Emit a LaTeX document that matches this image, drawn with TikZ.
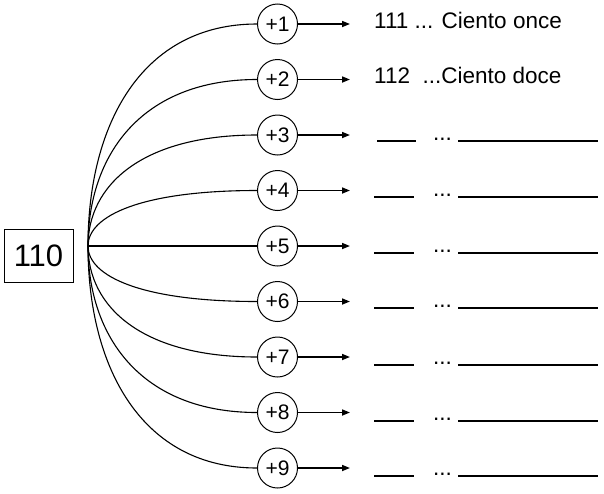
\documentclass[tikz,border=0pt]{standalone}
\usepackage{fontspec}
\setmainfont{Liberation Sans}
\usetikzlibrary{arrows.meta}

\begin{document}
\begin{tikzpicture}
				[x=1pt,y=-1pt,every node/.style={inner sep=0pt},
				plus/.style={circle, minimum size=40pt, line width=1pt, draw=black, font=\fontsize{21}{21}\selectfont},
				arc/.style={line width=1.1pt, color=black},
				go/.style={line width=1.6pt, color=black, -{Triangle[length=8pt,width=6pt]}},
				row/.style={anchor=base west, font=\fontsize{22.5}{22.5}\selectfont},
				blank/.style={line width=2.2pt, color=black}]
				\useasboundingbox (0,0) rectangle (604,493);
				\node (n) [draw=black, line width=1pt, minimum width=69pt, minimum height=53pt, font=\fontsize{31}{31}\selectfont] at (38.5, 255.5) {110};
				\coordinate (o) at (88, 246);
				\node (c1) [plus] at (277.5, 24)  {+1};
				\node (c2) [plus] at (277.5, 79.5)  {+2};
				\node (c3) [plus] at (277.5, 135)  {+3};
				\node (c4) [plus] at (277.5, 190.5)  {+4};
				\node (c5) [plus] at (277.5, 246)  {+5};
				\node (c6) [plus] at (277.5, 301.5)  {+6};
				\node (c7) [plus] at (277.5, 357)  {+7};
				\node (c8) [plus] at (277.5, 412.5)  {+8};
				\node (c9) [plus] at (277.5, 468)  {+9};
				\coordinate (a1) at (350, 24);
				\coordinate (a2) at (350, 79.5);
				\coordinate (a3) at (350, 135);
				\coordinate (a4) at (350, 190.5);
				\coordinate (a5) at (350, 246);
				\coordinate (a6) at (350, 301.5);
				\coordinate (a7) at (350, 357);
				\coordinate (a8) at (350, 412.5);
				\coordinate (a9) at (350, 468);
				\draw [arc] (o) .. controls +(0,-122) and +(-115,0) .. (c1.west);
				\draw [arc] (o) .. controls +(0,-91.6) and +(-115,0) .. (c2.west);
				\draw [arc] (o) .. controls +(0,-61) and +(-115,0) .. (c3.west);
				\draw [arc] (o) .. controls +(0,-30.5) and +(-115,0) .. (c4.west);
				\draw [arc] (o) -- (c5.west);
				\draw [arc] (o) .. controls +(0,30.5) and +(-115,0) .. (c6.west);
				\draw [arc] (o) .. controls +(0,61) and +(-115,0) .. (c7.west);
				\draw [arc] (o) .. controls +(0,91.6) and +(-115,0) .. (c8.west);
				\draw [arc] (o) .. controls +(0,122) and +(-115,0) .. (c9.west);
				\draw [go] (c1) -- (a1);
				\draw [go] (c2) -- (a2);
				\draw [go] (c3) -- (a3);
				\draw [go] (c4) -- (a4);
				\draw [go] (c5) -- (a5);
				\draw [go] (c6) -- (a6);
				\draw [go] (c7) -- (a7);
				\draw [go] (c8) -- (a8);
				\draw [go] (c9) -- (a9);
				\node (t1) [row] at (374, 28) {111 ... Ciento once};
				\node (t2) [row] at (374, 83) {112\ \ ...Ciento doce};
				% empty rows to fill in
				\node (d3) [row] at (433, 140) {...};
				\node (d4) [row] at (433, 196) {...};
				\node (d5) [row] at (433, 252) {...};
				\node (d6) [row] at (433, 307) {...};
				\node (d7) [row] at (433, 364) {...};
				\node (d8) [row] at (433, 420) {...};
				\node (d9) [row] at (433, 475) {...};
				\draw [blank] (377, 141) -- (416, 141);
				\draw [blank] (374, 197) -- (414, 197);
				\draw [blank] (374, 253) -- (414, 253);
				\draw [blank] (374, 308) -- (414, 308);
				\draw [blank] (374, 365) -- (414, 365);
				\draw [blank] (374, 421) -- (414, 421);
				\draw [blank] (374, 476) -- (414, 476);
				\draw [blank] (458, 141) -- (598, 141);
				\draw [blank] (458, 197) -- (598, 197);
				\draw [blank] (458, 253) -- (598, 253);
				\draw [blank] (458, 308) -- (598, 308);
				\draw [blank] (458, 365) -- (598, 365);
				\draw [blank] (458, 421) -- (598, 421);
				\draw [blank] (458, 476) -- (598, 476);
		\end{tikzpicture}
\end{document}
